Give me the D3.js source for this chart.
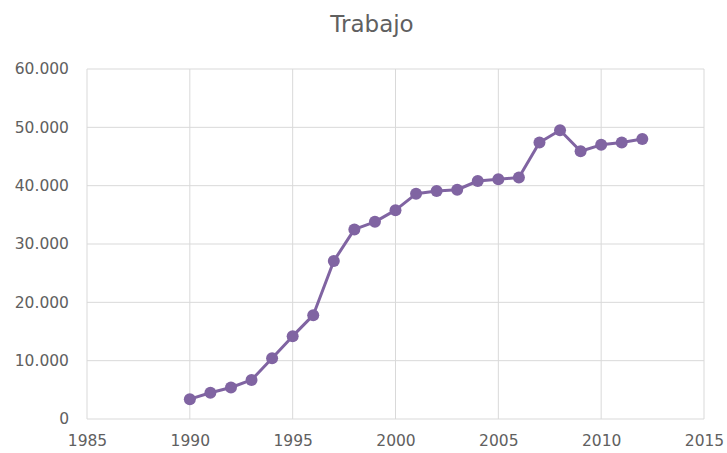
<!DOCTYPE html>
<html>
<head>
<meta charset="utf-8">
<script src="https://cdn.jsdelivr.net/npm/d3@7"></script>
<style>
  body { margin: 0; background: #fff; }
  svg { display: block; }
</style>
</head>
<body>
<svg id="chart" width="727" height="453"></svg>
<script>
// data
const years = [1990, 1991, 1992, 1993, 1994, 1995, 1996, 1997, 1998, 1999, 2000, 2001,
  2002, 2003, 2004, 2005, 2006, 2007, 2008, 2009, 2010, 2011, 2012];
const trabajo = [3400, 4500, 5400, 6700, 10400, 14200, 17800, 27100, 32500, 33800, 35800, 38600,
  39100, 39300, 40800, 41100, 41400, 47400, 49500, 45900, 47000, 47400, 48000];
const xTicks = [1985, 1990, 1995, 2000, 2005, 2010, 2015];
const yTicks = [0, 10000, 20000, 30000, 40000, 50000, 60000];
const title = 'Trabajo';

const svg = d3.select('#chart');
const margin = { top: 69, right: 23, bottom: 34, left: 87 };
const width = 727, height = 453;
const w = width - margin.left - margin.right;
const h = height - margin.top - margin.bottom;

const x = d3.scaleLinear().domain([1985, 2015]).range([0, w]);
const y = d3.scaleLinear().domain([0, 60000]).range([h, 0]);

const g = svg.append('g').attr('transform', `translate(${margin.left},${margin.top})`);

const txt = '#606060';
const font = 'DejaVu Sans, sans-serif';
// es-ES style thousands separator
const fmt = d => d === 0 ? '0' : d3.format(',')(d).replace(/,/g, '.');

// gridlines
g.selectAll('.hg').data(yTicks).enter().append('line')
  .attr('x1', 0).attr('x2', w)
  .attr('y1', d => y(d)).attr('y2', d => y(d))
  .attr('stroke', '#d9d9d9').attr('stroke-width', 1);

g.selectAll('.vg').data(xTicks).enter().append('line')
  .attr('x1', d => x(d)).attr('x2', d => x(d))
  .attr('y1', 0).attr('y2', h)
  .attr('stroke', '#d9d9d9').attr('stroke-width', 1);

// axes (labels only, lines are the grid)
const xAxis = g.append('g')
  .attr('transform', `translate(0,${h})`)
  .call(d3.axisBottom(x).tickValues(xTicks).tickFormat(d3.format('d')).tickSize(0).tickPadding(16));
xAxis.select('.domain').remove();
xAxis.selectAll('text').attr('fill', txt).attr('font-size', '15.5px').attr('font-family', font);

const yAxis = g.append('g')
  .call(d3.axisLeft(y).tickValues(yTicks).tickFormat(fmt).tickSize(0).tickPadding(18));
yAxis.select('.domain').remove();
yAxis.selectAll('text').attr('fill', txt).attr('font-size', '15.5px').attr('font-family', font);

// line
const color = '#8064a2';
g.append('path')
  .datum(years)
  .attr('fill', 'none')
  .attr('stroke', color)
  .attr('stroke-width', 3)
  .attr('stroke-linejoin', 'round')
  .attr('d', d3.line().x(d => x(d)).y((d, i) => y(trabajo[i])));

g.selectAll('.pt').data(years).enter().append('circle')
  .attr('cx', d => x(d))
  .attr('cy', (d, i) => y(trabajo[i]))
  .attr('r', 6)
  .attr('fill', color);

// title
svg.append('text')
  .attr('x', 372)
  .attr('y', 32)
  .attr('text-anchor', 'middle')
  .attr('fill', txt)
  .attr('font-size', '23px')
  .attr('font-family', font)
  .text(title);
</script>
</body>
</html>
